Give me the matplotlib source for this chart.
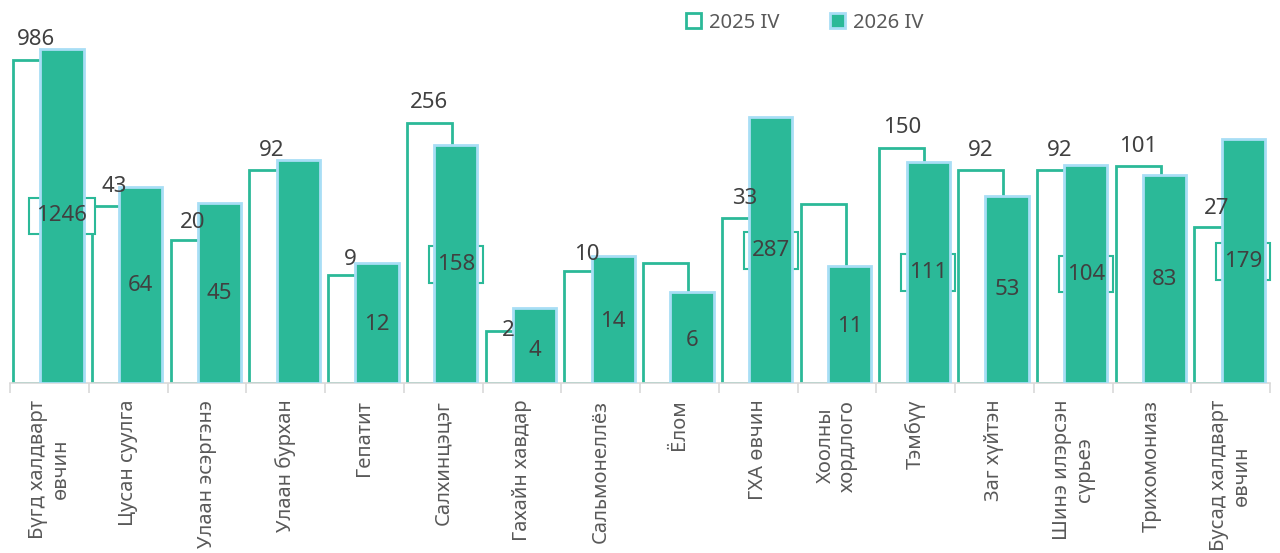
import matplotlib
matplotlib.use("Agg")
import matplotlib.pyplot as plt
import numpy as np

# data
categories = ['Бүгд халдварт\nөвчин', 'Цусан суулга', 'Улаан эсэргэнэ', 'Улаан бурхан',
              'Гепатит', 'Салхинцэцэг', 'Гахайн хавдар', 'Сальмонеллёз', 'Ёлом',
              'ГХА өвчин', 'Хоолны\nхордлого', 'Тэмбүү', 'Заг хүйтэн',
              'Шинэ илэрсэн\nсүрьеэ', 'Трихомониаз', 'Бусад халдварт\nөвчин']
v2025 = [986, 43, 20, 92, 9, 256, 2, 10, 12, 33, 44, 150, 92, 92, 101, 27]
v2026 = [1246, 64, 45, 114, 12, 158, 4, 14, 6, 287, 11, 111, 53, 104, 83, 179]
# labels not shown in the original
hide2025 = [8, 10]
hide2026 = [3]

teal = '#2bb998'
light_blue = '#a8def5'
txt = '#404040'

plt.rcParams['font.family'] = ['Noto Sans', 'DejaVu Sans']
plt.rcParams['font.stretch'] = 'normal'

fig = plt.figure(figsize=(12.8, 5.53), dpi=100)
ax = fig.add_axes([10 / 1280, (553 - 383) / 553, 1260 / 1280, 343 / 553])
ax.set_yscale('log')
ax.set_ylim(1, 10 ** (343 / 108))
n = len(categories)
x = np.arange(n)
ax.set_xlim(-0.5, n - 0.5)

ax.bar(x - 0.175, v2025, width=0.57, bottom=1, color='white', edgecolor=teal,
       linewidth=2, zorder=2, label='2025 IV')
ax.bar(x + 0.16, v2026, width=0.55, bottom=1, color=teal, edgecolor=light_blue,
       linewidth=2, zorder=3, label='2026 IV')

for i in range(n):
    if i not in hide2025:
        ax.annotate(str(v2025[i]), (x[i] - 0.175, v2025[i]), xytext=(0, 7),
                    textcoords='offset points', ha='center', va='bottom',
                    fontsize=16, color=txt, zorder=4)
    if i not in hide2026:
        ym = np.sqrt(v2026[i])
        # box drawn behind the filled bar, text drawn on top
        ax.text(x[i] + 0.16, ym, str(v2026[i]), ha='center', va='center',
                fontsize=16, color='none', zorder=2.5,
                bbox=dict(boxstyle='square,pad=0.35', facecolor='white',
                          edgecolor=teal, linewidth=1.5))
        ax.text(x[i] + 0.16, ym, str(v2026[i]), ha='center', va='center',
                fontsize=16, color=txt, zorder=4)

for s in ['top', 'right', 'left']:
    ax.spines[s].set_visible(False)
ax.spines['bottom'].set_color('#d9d9d9')
ax.spines['bottom'].set_linewidth(1.2)
ax.set_yticks([])
ax.minorticks_off()
ax.set_xticks(x)
ax.set_xticklabels(categories, rotation=90, fontsize=14.5, color='#595959',
                   multialignment='center', linespacing=1.2)
ax.tick_params(axis='x', length=0, pad=12)
ax.set_xticks(np.arange(n + 1) - 0.5, minor=True)
ax.tick_params(axis='x', which='minor', length=7, color='#d9d9d9', width=1.2)

ax.legend(loc='upper center', bbox_to_anchor=(805 / 1280, 1.01),
          bbox_transform=fig.transFigure, ncol=2, frameon=False, fontsize=14.5,
          labelcolor='#595959', handlelength=0.75, handleheight=0.75,
          columnspacing=2.5, handletextpad=0.4)

fig.savefig('out.png', dpi=100)
